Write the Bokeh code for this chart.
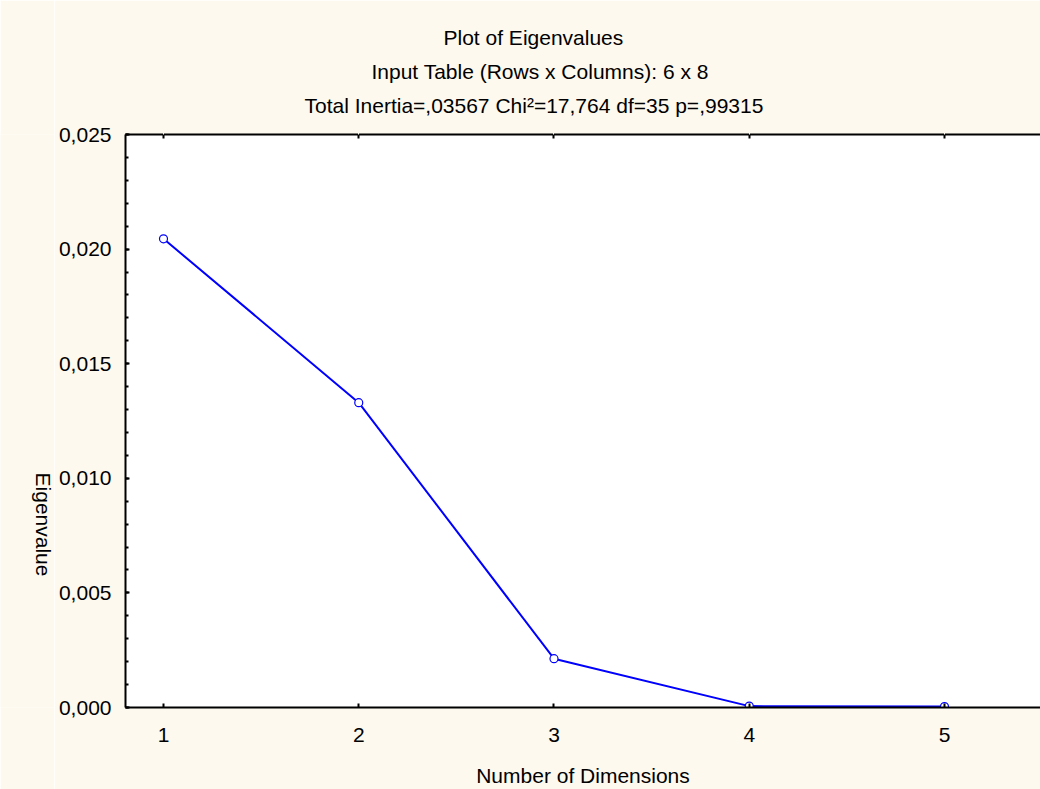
import math
from bokeh.plotting import figure
from bokeh.models import (FixedTicker, LinearAxis, Range1d, ColumnDataSource, Title, Label)
from bokeh.layouts import row
from bokeh.embed import file_html
from bokeh.resources import INLINE

# ---- data ----
dimensions = [1, 2, 3, 4, 5]
eigenvalues = [0.02045, 0.01330, 0.00213, 0.00006, 0.00004]
y_ticks = [0.0, 0.005, 0.010, 0.015, 0.020, 0.025]
y_tick_labels = ["0,000", "0,005", "0,010", "0,015", "0,020", "0,025"]
y_minor = [i / 1000 for i in range(0, 26)]
x_ticks = [1, 2, 3, 4, 5]
title_lines = ["Plot of Eigenvalues",
               "Input Table (Rows x Columns): 6 x 8",
               "Total Inertia=,03567 Chi\u00b2=17,764 df=35 p=,99315"]
title_offsets = [318, 246, 179]
x_label = "Number of Dimensions"
y_label = "Eigenvalue"

FONT = "Liberation Sans"
FS = "21px"
CREAM = "#fdf9ef"
H = 789
LW = 54  # width of the narrow strip holding the y label

# ---- strip with the downward-reading y label ----
lab = figure(width=LW, height=H, output_backend="svg", toolbar_location=None,
             x_range=Range1d(0, LW), y_range=Range1d(H, 0),
             x_axis_type=None, y_axis_type=None, title=None,
             min_border_left=0, min_border_right=0, min_border_top=0, min_border_bottom=0)
lab.border_fill_color = CREAM
lab.background_fill_color = CREAM
lab.outline_line_color = None
lab.add_layout(Label(x=43, y=537, text=y_label, angle=-math.pi / 2,
                     text_align="center", text_baseline="middle", text_font=FONT,
                     text_font_size=FS, text_color="black"))

# ---- main plot ----
p = figure(width=1040 - LW, height=H, output_backend="svg", toolbar_location=None,
           x_range=Range1d(0.8054, 5.4917), y_range=Range1d(0.0, 0.025),
           x_axis_type=None, y_axis_type=None, title=None,
           min_border_left=125 - LW, min_border_right=0, min_border_top=134, min_border_bottom=81)
p.border_fill_color = CREAM
p.background_fill_color = "white"
p.outline_line_color = None

xax = LinearAxis(ticker=FixedTicker(ticks=x_ticks))
yax = LinearAxis(ticker=FixedTicker(ticks=y_ticks, minor_ticks=y_minor))
yax.major_label_overrides = {t: l for t, l in zip(y_ticks, y_tick_labels)}
tax = LinearAxis(ticker=FixedTicker(ticks=x_ticks))
for ax in (xax, yax, tax):
    ax.axis_line_color = "black"
    ax.axis_line_width = 2
    ax.major_tick_line_color = "black"
    ax.major_tick_line_width = 2
    ax.major_tick_in = 4
    ax.major_tick_out = 0
    ax.minor_tick_in = 3
    ax.minor_tick_out = 0
    ax.minor_tick_line_color = "black"
    ax.minor_tick_line_width = 2
    ax.major_label_text_font = FONT
    ax.major_label_text_font_size = FS
    ax.major_label_text_color = "black"
xax.minor_tick_line_color = None
tax.minor_tick_line_color = None
tax.major_label_text_font_size = "1px"
tax.major_label_text_color = None
tax.major_label_standoff = 0
xax.major_label_standoff = 20
yax.major_label_standoff = 14
xax.axis_label = x_label
xax.axis_label_text_font = FONT
xax.axis_label_text_font_size = FS
xax.axis_label_text_font_style = "normal"
xax.axis_label_text_color = "black"
xax.axis_label_standoff = 19

# spacer above the plot: outward ticks in the background colour
sax = LinearAxis(ticker=FixedTicker(ticks=x_ticks))
sax.axis_line_color = None
sax.major_tick_line_color = CREAM
sax.minor_tick_line_color = None
sax.major_tick_in = 0
sax.major_tick_out = 13
sax.minor_tick_out = 0
sax.major_label_text_font_size = "1px"
sax.major_label_text_color = None

p.add_layout(xax, "below")
p.add_layout(yax, "left")
p.add_layout(tax, "above")
p.add_layout(sax, "above")

for t, off in reversed(list(zip(title_lines, title_offsets))):
    p.add_layout(Title(text=t, align="left", offset=off, text_font=FONT,
                       text_font_size=FS, text_font_style="normal",
                       text_color="black", standoff=9), "above")

p.ygrid.ticker = FixedTicker(ticks=y_ticks)
p.ygrid.grid_line_color = "#bdbdbd"
p.ygrid.grid_line_dash = "3 2"
p.ygrid.grid_line_width = 1

src = ColumnDataSource(dict(x=dimensions, y=eigenvalues))
p.line("x", "y", source=src, line_color="#0000ff", line_width=2)
p.scatter("x", "y", source=src, marker="circle", size=8, line_color="#0000ff",
          fill_color="white", line_width=1.2)

layout = row(lab, p, spacing=0)
open("out.html", "w").write(file_html(layout, INLINE))
